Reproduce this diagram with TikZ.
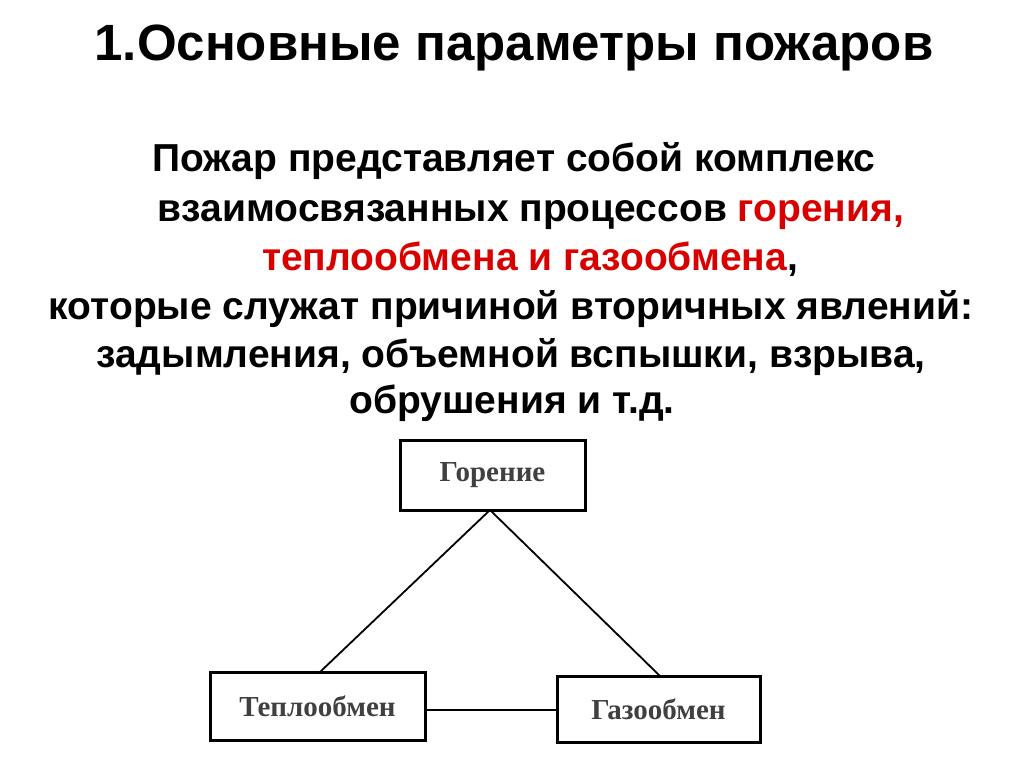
\documentclass[tikz,border=0pt]{standalone}
\usepackage{fontspec}
\setmainfont{Liberation Sans}
\newfontfamily\boxfont{Liberation Serif}
\begin{document}
\begin{tikzpicture}[x=1pt,y=-1pt,
  tline/.style={font=\fontsize{39}{42}\selectfont\bfseries,anchor=base,inner sep=0},
  pbox/.style={draw,line width=3pt,inner sep=0,font=\boxfont\bfseries\fontsize{29}{32}\selectfont\color{black!75}}]
\useasboundingbox (0,0) rectangle (1024,767);
\node[tline,font=\fontsize{51}{54}\selectfont\bfseries] (title) at (514,61) {1.Основные параметры пожаров};
\node[tline] (l1) at (514,172) {Пожар представляет собой комплекс};
\node[tline] (l2) at (531,222) {взаимосвязанных процессов \textcolor{red!85!black}{горения,}};
\node[tline] (l3) at (530,270) {\textcolor{red!85!black}{теплообмена и газообмена}, };
\node[tline] (l4) at (511,319) {которые служат причиной вторичных явлений:};
\node[tline] (l5) at (511,367) {задымления, объемной вспышки, взрыва,};
\node[tline] (l6) at (512,413) {обрушения и т.д.};
\node[pbox,minimum width=185pt,minimum height=70pt] (g) at (492.5,475) {Горение};
\node[pbox,minimum width=215pt,minimum height=68pt] (t) at (317.5,706) {Теплообмен};
\node[pbox,minimum width=203pt,minimum height=66pt] (z) at (658.5,709) {Газообмен};
\draw[line width=1.8pt] (490,510) -- (320,672);
\draw[line width=1.8pt] (490,510) -- (660,676);
\draw[line width=1.8pt] (t.east |- 0,710) -- (z.west |- 0,710);
\end{tikzpicture}
\end{document}
